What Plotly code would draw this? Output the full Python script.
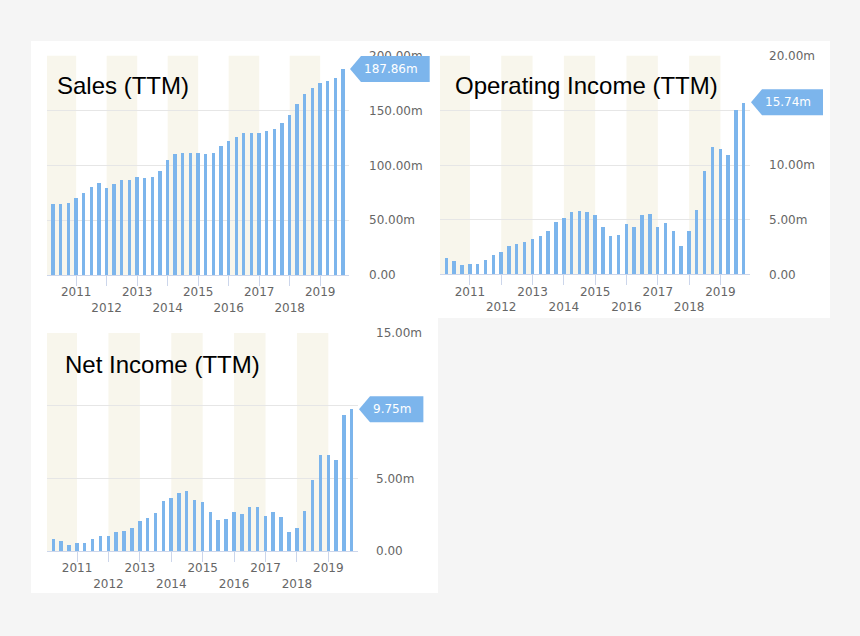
import pandas as pd
import plotly.graph_objects as go

# ---------------- data ----------------
quarters = [d.strftime("%Y-%m-%d") for d in pd.date_range("2010-03-31", periods=39, freq="QE")]

sales = [64.8, 64.8, 66.0, 70.8, 75.0, 80.6, 84.5, 79.3, 83.6, 86.6, 86.6, 89.7, 88.8,
         89.7, 94.8, 105.5, 110.4, 111.6, 111.6, 111.6, 110.4, 111.6, 117.6, 122.2,
         126.2, 130.1, 130.1, 130.1, 131.3, 133.8, 138.9, 145.9, 156.6, 165.7, 170.8,
         175.4, 177.2, 180.3, 187.86]

operating_income = [1.49, 1.28, 0.85, 0.95, 0.95, 1.37, 1.77, 2.10, 2.62, 2.84, 2.96, 3.23,
                    3.57, 4.00, 4.82, 5.21, 5.76, 5.85, 5.70, 5.43, 4.39, 3.57, 3.66, 4.60,
                    4.39, 5.43, 5.52, 4.39, 4.70, 3.96, 2.62, 3.96, 5.95, 9.51, 11.70, 11.46,
                    10.98, 15.03, 15.74]

net_income = [0.83, 0.69, 0.42, 0.53, 0.53, 0.83, 1.06, 1.00, 1.32, 1.39, 1.55, 2.04, 2.27,
              2.59, 3.45, 3.68, 4.00, 4.14, 3.52, 3.36, 2.66, 2.10, 2.18, 2.66, 2.52, 3.03,
              3.03, 2.43, 2.66, 2.34, 1.32, 1.55, 2.78, 4.86, 6.62, 6.62, 6.23, 9.38, 9.75]

titles = ["Sales (TTM)", "Operating Income (TTM)", "Net Income (TTM)"]
last_labels = ["187.86m", "15.74m", "9.75m"]

year_ticks = [2011, 2012, 2013, 2014, 2015, 2016, 2017, 2018, 2019]
band_years = [2010, 2012, 2014, 2016, 2018]

# labels hidden behind the last-value callout in the reference are left blank
sales_ticks = [0, 50, 100, 150, 200]
sales_ticktext = ["0.00", "50.00m", "100.00m", "150.00m", "200.00m"]
op_ticks = [0, 5, 10, 15, 20]
op_ticktext = ["0.00", "5.00m", "10.00m", "", "20.00m"]
net_ticks = [0, 5, 10, 15]
net_ticktext = ["0.00", "5.00m", "", "15.00m"]

# ---------------- styling ----------------
W, H = 860, 636
BAR = "#7cb5ec"
BAND = "#f8f6ec"
GRID = "#e6e6e6"
AXIS = "#ccd6eb"
LABEL = "#666666"
TICKFONT = dict(family="DejaVu Sans", size=12, color=LABEL)
x_range = ["2010-01-17", "2019-12-12"]


def px_x(p):
    return p / W


def px_y(p):
    return 1 - p / H


def text_px(s):
    # approximate DejaVu Sans 12px advance widths
    w = 0.0
    for ch in s:
        w += 11.7 if ch == "m" else (3.8 if ch == "." else 7.63)
    return w


panels = [
    dict(xa="x", ya="y", xd=(47, 349), yd=(55.7, 275), vals=sales, tv=sales_ticks, tt=sales_ticktext,
         ymax=200, standoff=19, tpos=(55, 86)),
    dict(xa="x2", ya="y2", xd=(440, 750), yd=(55.7, 274.3), vals=operating_income, tv=op_ticks,
         tt=op_ticktext, ymax=20, standoff=18, tpos=(453, 86)),
    dict(xa="x3", ya="y3", xd=(47, 358), yd=(333, 551), vals=net_income, tv=net_ticks, tt=net_ticktext,
         ymax=15, standoff=17, tpos=(63, 364)),
]

fig = go.Figure()
shapes = []
annotations = []

# white panels on light grey page
shapes.append(dict(type="rect", xref="paper", yref="paper", x0=px_x(31), x1=px_x(830),
                   y0=px_y(318), y1=px_y(41), fillcolor="white", line=dict(width=0), layer="below"))
shapes.append(dict(type="rect", xref="paper", yref="paper", x0=px_x(31), x1=px_x(438),
                   y0=px_y(593), y1=px_y(317), fillcolor="white", line=dict(width=0), layer="below"))

layout_axes = {}
for i, p in enumerate(panels):
    fig.add_trace(go.Bar(x=quarters, y=p["vals"], xaxis=p["xa"], yaxis=p["ya"],
                         marker=dict(color=BAR, line=dict(width=0)),
                         width=40 * 86400000, showlegend=False, hoverinfo="skip"))
    xname = "xaxis" if p["xa"] == "x" else "xaxis" + p["xa"][1:]
    yname = "yaxis" if p["ya"] == "y" else "yaxis" + p["ya"][1:]
    layout_axes[xname] = dict(
        domain=[px_x(p["xd"][0]), px_x(p["xd"][1])], anchor=p["ya"], type="date",
        range=x_range, showgrid=False, zeroline=False, showline=True, linecolor=AXIS, linewidth=1,
        ticks="outside", ticklen=10, tickcolor=AXIS, tickwidth=1, tickangle=0,
        ticklabelstandoff=-4,
        tickvals=[f"{y}-01-01" for y in year_ticks],
        ticktext=[str(y) if k % 2 == 0 else "<br>" + str(y) for k, y in enumerate(year_ticks)],
        tickfont=TICKFONT, fixedrange=True, automargin=False,
    )
    layout_axes[yname] = dict(
        domain=[px_y(p["yd"][1]), px_y(p["yd"][0])], anchor=p["xa"], side="right",
        range=[0, p["ymax"]], tickvals=p["tv"], ticktext=p["tt"], showgrid=True, gridcolor=GRID,
        gridwidth=1, zeroline=False, showline=False, ticks="", ticklabelstandoff=p["standoff"],
        tickfont=TICKFONT, fixedrange=True, automargin=False,
    )
    # alternating year bands
    for y in band_years:
        x0 = max(f"{y}-01-01", x_range[0])
        x1 = min(f"{y + 1}-01-01", x_range[1])
        shapes.append(dict(type="rect", xref=p["xa"], yref=p["ya"] + " domain", x0=x0, x1=x1,
                           y0=0, y1=1, fillcolor=BAND, line=dict(width=0), layer="below"))
    # title
    annotations.append(dict(text=titles[i], xref="paper", yref="paper", x=px_x(p["tpos"][0]),
                            y=px_y(p["tpos"][1]), xanchor="left", yanchor="middle", showarrow=False,
                            font=dict(family="Liberation Sans", size=24, color="black")))
    # last-value callout
    lab = last_labels[i]
    bw = 16 + text_px(lab) + 11
    shapes.append(dict(type="path", xref=p["xa"] + " domain", yref=p["ya"], xsizemode="pixel",
                       ysizemode="pixel", xanchor=1, yanchor=p["vals"][-1],
                       path=f"M 1 0 L 12 13 L {bw:.1f} 13 L {bw:.1f} -13 L 12 -13 Z",
                       fillcolor=BAR, line=dict(width=0), layer="above"))
    annotations.append(dict(text=lab, xref=p["xa"] + " domain", yref=p["ya"], x=1, y=p["vals"][-1],
                            xanchor="left", yanchor="middle", xshift=13, showarrow=False,
                            font=dict(family="DejaVu Sans", size=12, color="white")))

fig.update_layout(
    width=W, height=H, autosize=False, margin=dict(l=0, r=0, t=0, b=0, pad=0),
    paper_bgcolor="#f5f5f5", plot_bgcolor="rgba(0,0,0,0)",
    bargap=0, shapes=shapes, annotations=annotations, showlegend=False,
    **layout_axes,
)

fig.write_html(
    "out.html",
    config={"displayModeBar": False, "responsive": False},
    post_script="document.body.style.margin='0';document.documentElement.style.overflow='hidden';",
)
